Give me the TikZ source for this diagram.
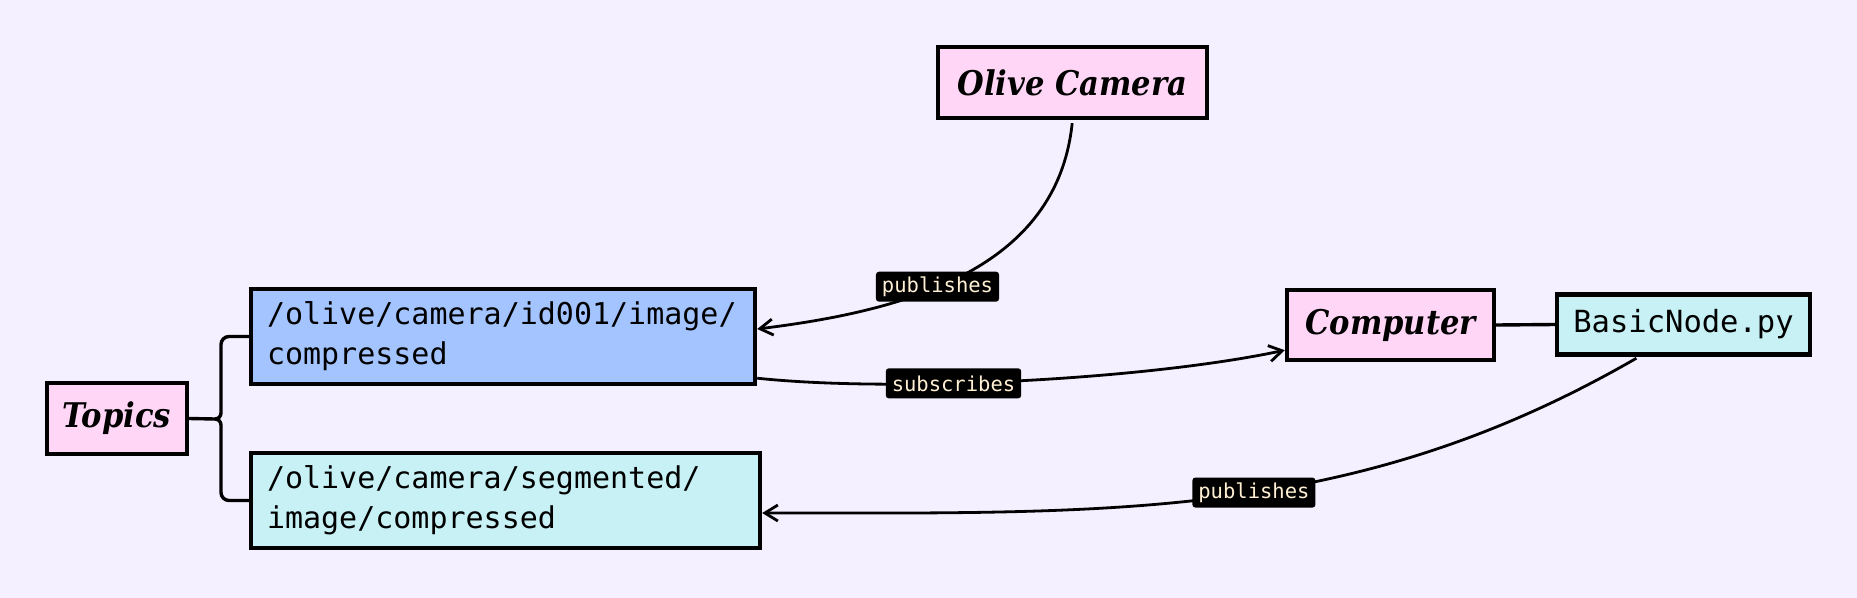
\documentclass[tikz,border=0pt]{standalone}
\usepackage{fontspec}
\setmonofont{DejaVu Sans Mono}
\IfFontExistsTF{DejaVu Serif Condensed}{\newfontfamily\serfont{DejaVu Serif Condensed}}{\newfontfamily\serfont{Liberation Serif}}
\usetikzlibrary{arrows.meta}
\definecolor{bgc}{HTML}{F5F0FF}
\definecolor{pinkc}{HTML}{FFD6F6}
\definecolor{bluec}{HTML}{A3C4FF}
\definecolor{cyanc}{HTML}{C7F1F5}
\definecolor{labc}{HTML}{FFF0D4}
\begin{document}
\begin{tikzpicture}[x=1pt,y=1pt,
  box/.style={draw=black, line width=4.4pt, inner sep=0pt},
  pinkbox/.style={box, fill=pinkc, font=\serfont\bfseries\itshape\fontsize{34}{40}\selectfont},
  topicbox/.style={box, align=left, inner xsep=16pt, minimum height=95pt, font=\ttfamily\fontsize{30}{40}\selectfont},
  lab/.style={fill=black, text=labc, rounded corners=3pt, inner xsep=6pt, inner ysep=0pt, minimum height=30pt, font=\ttfamily\fontsize{20.5}{24}\selectfont},
  conn/.style={line width=2.8pt},
  arr/.style={conn, -{Straight Barb[length=13pt,width=16pt]}},
  bracket/.style={line width=3.4pt, line join=round}]
\useasboundingbox (0,0) rectangle (1857,-597);
\fill[bgc] (-40,40) rectangle (1900,-640);

\node[pinkbox, minimum width=269pt, minimum height=71pt] (cam) at (1072.5,-82.5) {Olive Camera};
\node[pinkbox, minimum width=140pt, minimum height=71pt] (topics) at (117,-418.5) {Topics};
\node[pinkbox, minimum width=207pt, minimum height=70pt] (comp) at (1390.5,-325) {Computer};
\node[box, fill=cyanc, minimum width=253pt, minimum height=60pt, font=\ttfamily\fontsize{30.5}{40}\selectfont] (basic) at (1683.5,-324.5) {BasicNode.py};
\node[topicbox, fill=bluec, text width=472pt] (blue) at (503,-336.5) {/olive/camera/id001/image/\\compressed};
\node[topicbox, fill=cyanc, text width=477pt] (seg) at (505.5,-500.5) {/olive/camera/segmented/\\image/compressed};

% bracket
\draw[bracket] (topics.east) -- (215,-419);
\draw[bracket] (blue.west) -- (229,-336.5) arc[start angle=90,end angle=180,radius=8] -- (221,-413) arc[start angle=0,end angle=-90,radius=6];
\draw[bracket] (seg.west) -- (229,-500.5) arc[start angle=-90,end angle=-180,radius=8] -- (221,-425) arc[start angle=0,end angle=90,radius=6];

\draw[conn, line width=3.4pt] (comp.east) -- (basic.west);

\draw[arr, shorten <=3pt] (cam.south) to[out=-96, in=7, out distance=150pt, in distance=150pt]
  node[lab, pos=0.575] {publishes} ([yshift=7.5pt]blue.east);
\draw[arr] ([yshift=8pt]blue.south east) to[out=-6, in=192, out distance=142pt, in distance=138pt]
  node[lab, pos=0.38] {subscribes} ([yshift=12pt]comp.south west);
\draw[arr, shorten <=3pt] ([xshift=-44.5pt]basic.south) to[out=210, in=0, out distance=330pt, in distance=350pt]
  node[lab, pos=0.465] {publishes} ([yshift=-12.5pt]seg.east);
\end{tikzpicture}
\end{document}
